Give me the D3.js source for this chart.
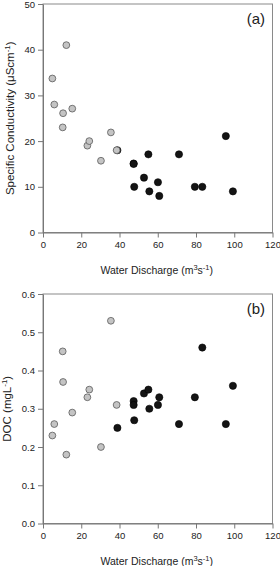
<!DOCTYPE html>
<html>
<head>
<meta charset="utf-8">
<script src="https://cdn.jsdelivr.net/npm/d3@7"></script>
<style>
body { margin: 0; background: #fff; }
svg text { font-family: "Liberation Sans", Arial, sans-serif; fill: #222; }
</style>
</head>
<body>
<div id="chart"></div>
<script>
// data
const grayQ    = [4.9, 5.9, 10.3, 10.5, 12.2, 15.3, 23.2, 24.2, 30.3, 35.5, 38.5];
const grayCond = [33.7, 28, 23, 26.1, 41, 27.1, 19, 20, 15.7, 21.9, 18];
const grayDoc  = [0.23, 0.26, 0.45, 0.37, 0.18, 0.29, 0.33, 0.35, 0.20, 0.53, 0.31];

const blackQ    = [38.9, 47.4, 47.4, 47.7, 52.8, 55.1, 55.6, 60.1, 60.8, 71.1, 79.4, 83.3, 95.6, 99.3];
const blackCond = [18, 15.1, 15, 10, 12, 17.1, 9, 11, 8, 17.1, 10, 10, 21.1, 9];
const blackDoc  = [0.25, 0.32, 0.31, 0.27, 0.34, 0.35, 0.30, 0.31, 0.33, 0.26, 0.33, 0.46, 0.26, 0.36];

const xTicks = [0, 20, 40, 60, 80, 100, 120];
const condTicks = [0, 10, 20, 30, 40, 50];
const docTicks = [0, 0.1, 0.2, 0.3, 0.4, 0.5, 0.6];

const W = 280, H = 566;
const left = 43, right = 272.5;

let svg = d3.select("#chart").append("svg")
	.attr("width", W).attr("height", H);

function panel(top, bottom, yMax, yTicks, yFmt, yLabel, yLabelX, tag, grayY, blackY) {
	let x = d3.scaleLinear().domain([0, 120]).range([left, right]);
	let y = d3.scaleLinear().domain([0, yMax]).range([bottom, top]);
	let g = svg.append("g");

	// frame
	g.append("rect")
		.attr("x", left).attr("y", top)
		.attr("width", right - left).attr("height", bottom - top)
		.attr("fill", "none").attr("stroke", "#8a8a8a").attr("stroke-width", 1);

	let xa = g.append("g").attr("transform", "translate(0," + bottom + ")")
		.call(d3.axisBottom(x).tickValues(xTicks).tickSize(5).tickPadding(4).tickSizeOuter(0));
	let ya = g.append("g").attr("transform", "translate(" + left + ",0)")
		.call(d3.axisLeft(y).tickValues(yTicks).tickFormat(yFmt).tickSize(5).tickPadding(3).tickSizeOuter(0));
	[xa, ya].forEach(function(a) {
		a.select(".domain").attr("stroke", "#777");
		a.selectAll(".tick line").attr("stroke", "#777");
		a.selectAll(".tick text").attr("font-size", 9.5).attr("fill", "#222")
			.attr("font-family", "Liberation Sans, Arial, sans-serif");
	});

	// x title
	let xt = g.append("text")
		.attr("x", (left + right) / 2 - 1).attr("y", bottom + 41)
		.attr("text-anchor", "middle").attr("font-size", 10.5);
	xt.append("tspan").text("Water Discharge (m");
	xt.append("tspan").attr("baseline-shift", "super").attr("font-size", 7.5).text("3");
	xt.append("tspan").text("s");
	xt.append("tspan").attr("baseline-shift", "super").attr("font-size", 7.5).text("-1");
	xt.append("tspan").text(")");

	// y title
	let yt = g.append("text")
		.attr("transform", "translate(" + yLabelX + "," + ((top + bottom) / 2) + ") rotate(-90)")
		.attr("text-anchor", "middle").attr("font-size", 11.5);
	yt.append("tspan").text(yLabel);
	yt.append("tspan").attr("baseline-shift", "super").attr("font-size", 8).text("-1");
	yt.append("tspan").text(")");

	g.append("text").attr("x", 265).attr("y", top + 20)
		.attr("text-anchor", "end").attr("font-size", 15).text(tag);

	g.append("g").selectAll("circle")
		.data(d3.zip(blackQ, blackY))
		.enter().append("circle")
		.attr("cx", d => x(d[0])).attr("cy", d => y(d[1])).attr("r", 3.6)
		.attr("fill", "#141414").attr("stroke", "#000").attr("stroke-width", 0.6);

	g.append("g").selectAll("circle")
		.data(d3.zip(grayQ, grayY))
		.enter().append("circle")
		.attr("cx", d => x(d[0])).attr("cy", d => y(d[1])).attr("r", 3.4)
		.attr("fill", "#c4c4c4").attr("stroke", "#5a5a5a").attr("stroke-width", 0.8);
}

panel(4, 232.5, 50, condTicks, d3.format("d"), "Specific Conductivity (μScm", 14, "(a)", grayCond, blackCond);
panel(294, 523.5, 0.6, docTicks, d3.format(".1f"), "DOC (mgL", 11, "(b)", grayDoc, blackDoc);
</script>
</body>
</html>
